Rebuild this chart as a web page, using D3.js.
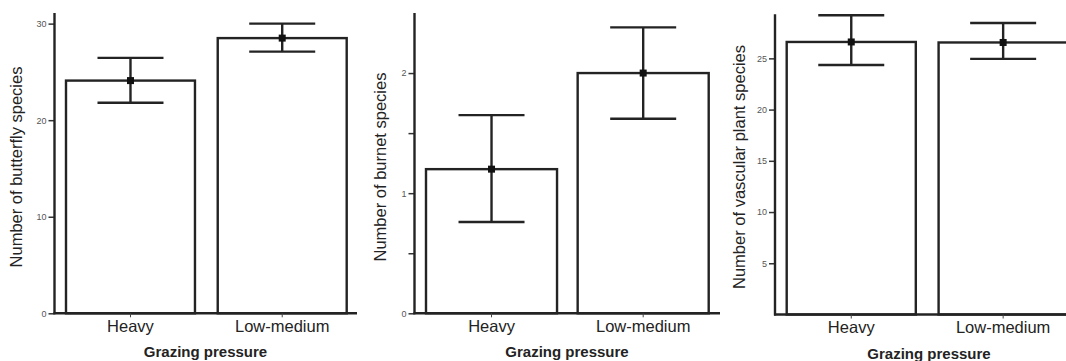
<!DOCTYPE html>
<html>
<head>
<meta charset="utf-8">
<script src="https://cdn.jsdelivr.net/npm/d3@7"></script>
<style>
  html, body { margin: 0; padding: 0; background: #fff; }
  svg { display: block; font-family: "Liberation Sans", Arial, sans-serif; }
</style>
</head>
<body>
<svg id="chart" width="1066" height="361"></svg>
<script>
// categories shared by all three panels
const categories = ['Heavy', 'Low-medium'];

// butterfly species
const butterflyMean = [24.1, 28.5];
const butterflyLow = [21.8, 27.1];
const butterflyHigh = [26.45, 30.0];
const butterflyTicks = [0, 10, 20, 30];

// burnet species
const burnetMean = [1.2, 2.0];
const burnetLow = [0.76, 1.62];
const burnetHigh = [1.65, 2.38];
const burnetTicks = [0, 0.5, 1, 1.5, 2];

// vascular plant species
const plantMean = [26.6, 26.55];
const plantLow = [24.35, 24.95];
const plantHigh = [29.2, 28.45];
const plantTicks = [5, 10, 15, 20, 25];

const xTitle = 'Grazing pressure';

// layout of each panel (pixels)
const panels = [
    { label: 'Number of butterfly species', mean: butterflyMean, low: butterflyLow, high: butterflyHigh,
      ticks: butterflyTicks, fmt: d => d, yMax: 31.1,
      axisX: 54.5, axisEnd: 357, top: 13, bottom: 313.3, bars: [66, 346.7], pad: 0.15,
      labelX: 22, titleX: 205.5, catY: 332, titleY: 357 },
    { label: 'Number of burnet species', mean: burnetMean, low: burnetLow, high: burnetHigh,
      ticks: burnetTicks, fmt: d => Number.isInteger(d) ? d : '', yMax: 2.5,
      axisX: 414.5, axisEnd: 720, top: 13, bottom: 313.3, bars: [426, 708.7], pad: 0.136,
      labelX: 385.5, titleX: 567, catY: 332, titleY: 357 },
    { label: 'Number of vascular plant species', mean: plantMean, low: plantLow, high: plantHigh,
      ticks: plantTicks, fmt: d => d, yMax: 29.3,
      axisX: 775, axisEnd: 1070, top: 14.3, bottom: 314.5, bars: [786.7, 1067.7], pad: 0.15,
      labelX: 745, titleX: 929, catY: 333, titleY: 359 }
];

const ink = '#232323';
const svg = d3.select('#chart');

panels.forEach(p => {
    const g = svg.append('g');

    const y = d3.scaleLinear()
        .domain([0, p.yMax])
        .range([p.bottom, p.top]);

    const x = d3.scaleBand()
        .domain(categories)
        .range(p.bars)
        .paddingInner(p.pad)
        .paddingOuter(0);

    const rows = categories.map((c, i) => ({ cat: c, mean: p.mean[i], low: p.low[i], high: p.high[i] }));

    // bars
    g.selectAll('rect.bar')
        .data(rows)
        .enter()
        .append('rect')
        .attr('class', 'bar')
        .attr('x', d => x(d.cat))
        .attr('y', d => y(d.mean))
        .attr('width', x.bandwidth())
        .attr('height', d => y(0) - y(d.mean))
        .attr('fill', '#fff')
        .attr('stroke', ink)
        .attr('stroke-width', 2.4);

    // y axis
    const yAxis = d3.axisLeft(y)
        .tickValues(p.ticks)
        .tickSize(6)
        .tickPadding(2)
        .tickFormat(p.fmt);

    const ya = g.append('g')
        .attr('transform', `translate(${p.axisX},0)`)
        .call(yAxis);
    ya.select('.domain').remove();
    ya.selectAll('.tick line').attr('stroke', '#333').attr('stroke-width', 1.5);
    ya.selectAll('.tick text')
        .attr('fill', '#555')
        .style('font-size', '9px')
        .style('font-family', '"Liberation Sans", Arial, sans-serif');

    g.append('line')
        .attr('x1', p.axisX).attr('x2', p.axisX)
        .attr('y1', p.top).attr('y2', p.bottom + 1)
        .attr('stroke', ink)
        .attr('stroke-width', 2.4);

    // x axis line
    g.append('line')
        .attr('x1', p.axisX - 1).attr('x2', p.axisEnd)
        .attr('y1', p.bottom).attr('y2', p.bottom)
        .attr('stroke', ink)
        .attr('stroke-width', 2.4);

    // category ticks and labels
    g.selectAll('line.xtick')
        .data(categories)
        .enter()
        .append('line')
        .attr('x1', d => x(d) + x.bandwidth() / 2)
        .attr('x2', d => x(d) + x.bandwidth() / 2)
        .attr('y1', p.bottom)
        .attr('y2', p.bottom + 4)
        .attr('stroke', '#444')
        .attr('stroke-width', 1);

    g.selectAll('text.cat')
        .data(categories)
        .enter()
        .append('text')
        .attr('x', d => x(d) + x.bandwidth() / 2)
        .attr('y', p.catY)
        .attr('text-anchor', 'middle')
        .attr('fill', ink)
        .style('font-size', '16.5px')
        .text(d => d);

    // error bars
    const capHalf = 33;
    const eb = g.selectAll('g.err')
        .data(rows)
        .enter()
        .append('g')
        .attr('class', 'err');

    eb.append('line')
        .attr('x1', d => x(d.cat) + x.bandwidth() / 2)
        .attr('x2', d => x(d.cat) + x.bandwidth() / 2)
        .attr('y1', d => y(d.low))
        .attr('y2', d => y(d.high))
        .attr('stroke', ink)
        .attr('stroke-width', 2.4);

    ['low', 'high'].forEach(k => {
        eb.append('line')
            .attr('x1', d => x(d.cat) + x.bandwidth() / 2 - capHalf)
            .attr('x2', d => x(d.cat) + x.bandwidth() / 2 + capHalf)
            .attr('y1', d => y(d[k]))
            .attr('y2', d => y(d[k]))
            .attr('stroke', ink)
            .attr('stroke-width', 2.4);
    });

    eb.append('rect')
        .attr('x', d => x(d.cat) + x.bandwidth() / 2 - 3.5)
        .attr('y', d => y(d.mean) - 3.5)
        .attr('width', 7)
        .attr('height', 7)
        .attr('fill', '#111');

    // axis titles
    g.append('text')
        .attr('transform', `translate(${p.labelX},167) rotate(-90)`)
        .attr('text-anchor', 'middle')
        .attr('fill', ink)
        .style('font-size', '16.5px')
        .text(p.label);

    g.append('text')
        .attr('x', p.titleX)
        .attr('y', p.titleY)
        .attr('text-anchor', 'middle')
        .attr('fill', ink)
        .style('font-size', '15px')
        .style('font-weight', 'bold')
        .text(xTitle);
});
</script>
</body>
</html>
